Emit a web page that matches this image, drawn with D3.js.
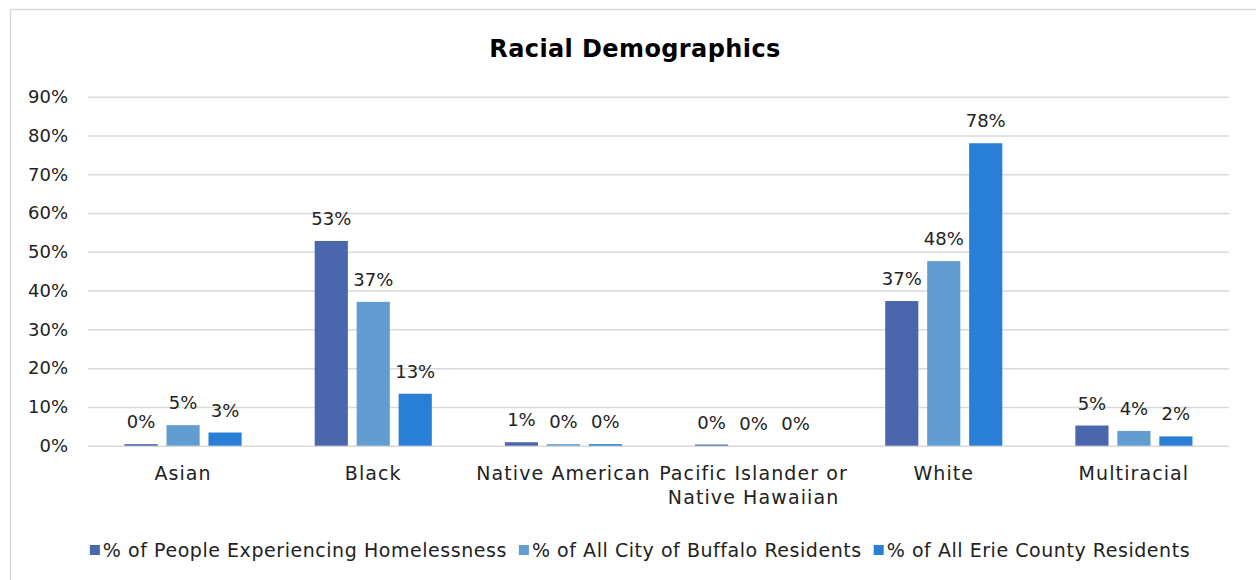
<!DOCTYPE html>
<html>
<head>
<meta charset="utf-8">
<script src="https://cdn.jsdelivr.net/npm/d3@7/dist/d3.min.js"></script>
<style>
  html, body { margin: 0; padding: 0; background: #ffffff; }
  svg { display: block; font-family: "DejaVu Sans", sans-serif; }
</style>
</head>
<body>
<svg id="chart" width="1256" height="580"></svg>
<script>
// Racial breakdown, in percent
const categories = ["Asian", "Black", "Native American", "Pacific Islander or\nNative Hawaiian", "White", "Multiracial"];
const seriesNames = [
  "% of People Experiencing Homelessness",
  "% of All City of Buffalo Residents",
  "% of All Erie County Residents"
];
const homeless = [0.4, 52.8, 0.9, 0.3, 37.3, 5.2];
const buffalo  = [5.3, 37.1, 0.4, 0.0, 47.6, 3.8];
const erie     = [3.4, 13.4, 0.4, 0.0, 78.0, 2.4];
const yTicks = [0, 10, 20, 30, 40, 50, 60, 70, 80, 90];
const colors = ["#4a66ac", "#629dd1", "#297fd5"];

const series = [homeless, buffalo, erie];

const svg = d3.select("#chart");

// outer frame
svg.append("rect")
  .attr("x", 10.5).attr("y", 9.5)
  .attr("width", 1260).attr("height", 600)
  .attr("fill", "#ffffff")
  .attr("stroke", "#d9d9d9").attr("stroke-width", 1.5);

// title
svg.append("text")
  .attr("x", 635).attr("y", 57)
  .attr("text-anchor", "middle")
  .attr("font-size", 24).attr("font-weight", "bold")
  .attr("letter-spacing", 0.4)
  .attr("fill", "#000")
  .text("Racial Demographics");

const plot = { left: 88, right: 1229, top: 96.7, bottom: 445.7 };

const y = d3.scaleLinear().domain([0, 90]).range([plot.bottom, plot.top]);
const x0 = d3.scaleBand().domain(categories).range([plot.left, plot.right]).paddingInner(0).paddingOuter(0);
const x1 = d3.scaleBand().domain(d3.range(series.length)).range([0, x0.bandwidth()])
  .paddingInner(0.21).paddingOuter(0.87);

// gridlines and y labels
const yAxis = d3.axisLeft(y).tickValues(yTicks).tickFormat(d => d + "%")
  .tickSize(-(plot.right - plot.left)).tickPadding(20);
const gy = svg.append("g").attr("transform", `translate(${plot.left},0)`).call(yAxis);
gy.select(".domain").remove();
gy.selectAll(".tick line").attr("stroke", "#d9d9d9").attr("stroke-width", 1.5);
gy.selectAll(".tick text").attr("font-size", 18).attr("fill", "#222")
  .attr("font-family", "DejaVu Sans, sans-serif");

// bars
const groups = svg.append("g").selectAll("g")
  .data(categories)
  .join("g")
  .attr("transform", d => `translate(${x0(d)},0)`);

groups.selectAll("rect")
  .data((c, i) => series.map((s, k) => ({ k, v: s[i] })))
  .join("rect")
  .attr("x", d => x1(d.k))
  .attr("width", x1.bandwidth())
  .attr("y", d => y(d.v))
  .attr("height", d => plot.bottom - y(d.v))
  .attr("fill", d => colors[d.k]);

// value labels
const fmt = d => Math.round(d) + "%";
groups.selectAll("text.val")
  .data((c, i) => series.map((s, k) => ({ k, v: s[i] })))
  .join("text")
  .attr("class", "val")
  .attr("x", d => x1(d.k) + x1.bandwidth() / 2)
  .attr("y", d => y(d.v) - 16)
  .attr("text-anchor", "middle")
  .attr("font-size", 18).attr("fill", "#222")
  .text(d => fmt(d.v));

// category labels
const xl = svg.append("g");
categories.forEach(c => {
  const cx = x0(c) + x0.bandwidth() / 2;
  const lines = c.split("\n");
  const t = xl.append("text")
    .attr("x", cx)
    .attr("y", 480)
    .attr("text-anchor", "middle")
    .attr("font-size", 19).attr("letter-spacing", 1.1).attr("fill", "#222");
  lines.forEach((ln, i) => {
    t.append("tspan").attr("x", cx)
      .attr("dy", i === 0 ? 0 : 24).text(ln);
  });
});

// legend
const legend = svg.append("g");
let lx = 0;
seriesNames.forEach((name, k) => {
  const g = legend.append("g");
  g.append("rect").attr("x", 0).attr("y", -12).attr("width", 10).attr("height", 10).attr("fill", colors[k]);
  const t = g.append("text").attr("x", 13).attr("y", 0)
    .attr("font-size", 19).attr("letter-spacing", 0.55).attr("fill", "#222").text(name);
  const w = 13 + t.node().getComputedTextLength();
  g.attr("transform", `translate(${lx},0)`);
  lx += w + 12;
});
const legendWidth = lx - 12;
legend.attr("transform", `translate(${640 - legendWidth / 2},557)`);
</script>
</body>
</html>
